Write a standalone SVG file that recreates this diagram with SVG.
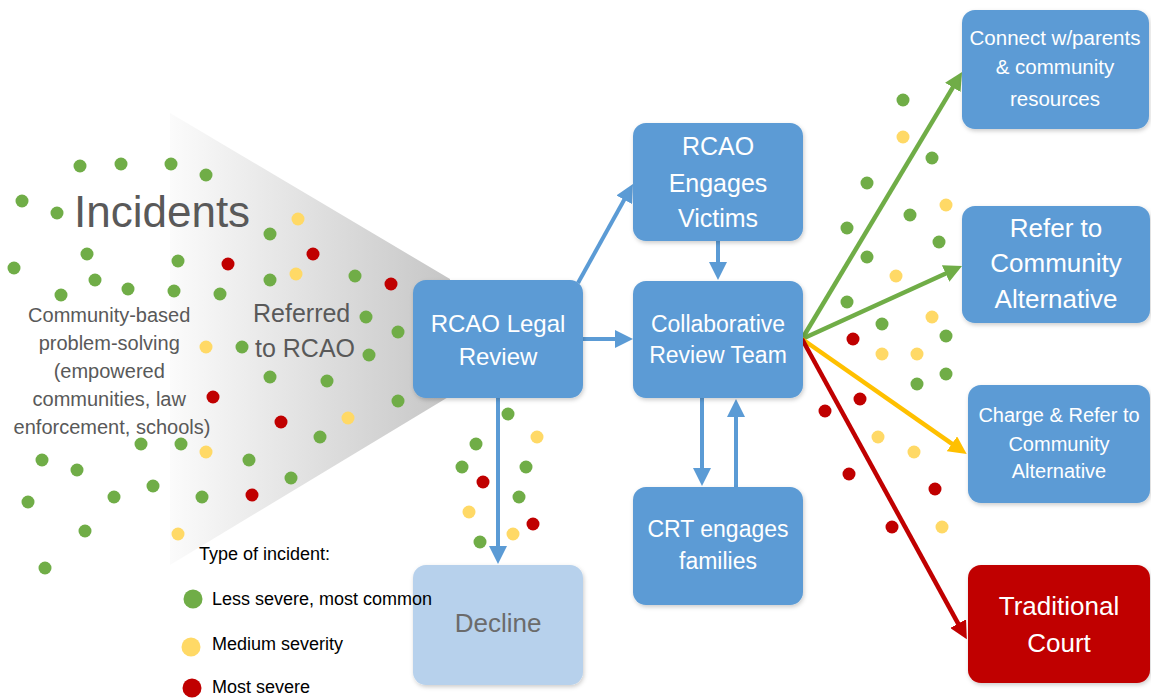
<svg xmlns="http://www.w3.org/2000/svg" width="1151" height="698" viewBox="0 0 1151 698">
<defs>
<style>
.box{fill:#5b9bd5;filter:url(#sh)}
.bt{font-family:"Liberation Sans",Arial,sans-serif;fill:#ffffff;text-anchor:middle}
.g{fill:#70ad47}.y{fill:#ffd966}.r{fill:#c00000}
.gray{font-family:"Liberation Sans",Arial,sans-serif;fill:#595959}
.leg{font-family:"Liberation Sans",Arial,sans-serif;fill:#000000;font-size:18px}
.ab{stroke:#5b9bd5;stroke-width:4;fill:none;marker-end:url(#hb)}
</style>
<linearGradient id="fun" x1="170" y1="0" x2="450" y2="0" gradientUnits="userSpaceOnUse">
<stop offset="0" stop-color="#fbfbfb"/>
<stop offset="1" stop-color="#c6c6c6"/>
</linearGradient>
<filter id="sh" x="-10%" y="-10%" width="125%" height="130%">
<feDropShadow dx="1" dy="2" stdDeviation="2" flood-color="#000" flood-opacity="0.2"/>
</filter>
<marker id="hb" markerUnits="userSpaceOnUse" markerWidth="18" markerHeight="18" refX="8" refY="9" orient="auto"><path d="M0,0 L18,9 L0,18 z" fill="#5b9bd5"/></marker>
<marker id="hg" markerUnits="userSpaceOnUse" markerWidth="18" markerHeight="18" refX="8" refY="9" orient="auto"><path d="M0,0 L18,9 L0,18 z" fill="#70ad47"/></marker>
<marker id="hy" markerUnits="userSpaceOnUse" markerWidth="18" markerHeight="18" refX="8" refY="9" orient="auto"><path d="M0,0 L18,9 L0,18 z" fill="#ffc000"/></marker>
<marker id="hr" markerUnits="userSpaceOnUse" markerWidth="18" markerHeight="18" refX="8" refY="9" orient="auto"><path d="M0,0 L18,9 L0,18 z" fill="#c00000"/></marker>
</defs>
<rect width="1151" height="698" fill="#ffffff"/>

<g id="funnel">
<polygon points="170,113 450,279 450,396 170,565" fill="url(#fun)"/>
</g>

<g id="labels">
<text class="gray" x="74" y="227" font-size="44">Incidents</text>
<text class="gray" font-size="20" text-anchor="middle">
<tspan x="112" y="322">Community-based</tspan>
<tspan x="112" y="350">problem-solving</tspan>
<tspan x="112" y="378">(empowered</tspan>
<tspan x="112" y="406">communities, law</tspan>
<tspan x="112" y="434">enforcement, schools)</tspan>
</text>
<text class="gray" font-size="25" fill="#666666">
<tspan x="253" y="322">Referred</tspan>
<tspan x="255" y="357">to RCAO</tspan>
</text>
</g>

<g id="dots">
<circle class="g" cx="80" cy="166" r="6.5"/>
<circle class="g" cx="121" cy="164" r="6.5"/>
<circle class="g" cx="171" cy="164" r="6.5"/>
<circle class="g" cx="206" cy="175" r="6.5"/>
<circle class="g" cx="22" cy="201" r="6.5"/>
<circle class="g" cx="57" cy="213" r="6.5"/>
<circle class="y" cx="298" cy="219" r="6.5"/>
<circle class="g" cx="270" cy="234" r="6.5"/>
<circle class="r" cx="313" cy="254" r="6.5"/>
<circle class="r" cx="228" cy="264" r="6.5"/>
<circle class="g" cx="178" cy="261" r="6.5"/>
<circle class="g" cx="87" cy="254" r="6.5"/>
<circle class="g" cx="14" cy="268" r="6.5"/>
<circle class="g" cx="95" cy="280" r="6.5"/>
<circle class="g" cx="128" cy="289" r="6.5"/>
<circle class="g" cx="174" cy="291" r="6.5"/>
<circle class="g" cx="220" cy="294" r="6.5"/>
<circle class="g" cx="61" cy="295" r="6.5"/>
<circle class="g" cx="270" cy="280" r="6.5"/>
<circle class="y" cx="296" cy="274" r="6.5"/>
<circle class="g" cx="355" cy="276" r="6.5"/>
<circle class="r" cx="391" cy="284" r="6.5"/>
<circle class="g" cx="366" cy="317" r="6.5"/>
<circle class="g" cx="398" cy="332" r="6.5"/>
<circle class="g" cx="369" cy="355" r="6.5"/>
<circle class="g" cx="242" cy="347" r="6.5"/>
<circle class="y" cx="206" cy="347" r="6.5"/>
<circle class="g" cx="270" cy="377" r="6.5"/>
<circle class="g" cx="327" cy="381" r="6.5"/>
<circle class="r" cx="213" cy="397" r="6.5"/>
<circle class="g" cx="398" cy="401" r="6.5"/>
<circle class="r" cx="281" cy="422" r="6.5"/>
<circle class="y" cx="348" cy="418" r="6.5"/>
<circle class="g" cx="320" cy="437" r="6.5"/>
<circle class="g" cx="141" cy="444" r="6.5"/>
<circle class="g" cx="181" cy="444" r="6.5"/>
<circle class="y" cx="206" cy="452" r="6.5"/>
<circle class="g" cx="42" cy="460" r="6.5"/>
<circle class="g" cx="249" cy="460" r="6.5"/>
<circle class="g" cx="77" cy="470" r="6.5"/>
<circle class="g" cx="291" cy="478" r="6.5"/>
<circle class="g" cx="153" cy="486" r="6.5"/>
<circle class="g" cx="28" cy="502" r="6.5"/>
<circle class="g" cx="114" cy="497" r="6.5"/>
<circle class="g" cx="202" cy="497" r="6.5"/>
<circle class="r" cx="252" cy="495" r="6.5"/>
<circle class="g" cx="85" cy="531" r="6.5"/>
<circle class="y" cx="178" cy="534" r="6.5"/>
<circle class="g" cx="45" cy="568" r="6.5"/>

<circle class="g" cx="508" cy="414" r="6.5"/>
<circle class="y" cx="537" cy="437" r="6.5"/>
<circle class="g" cx="476" cy="444" r="6.5"/>
<circle class="g" cx="462" cy="467" r="6.5"/>
<circle class="g" cx="526" cy="467" r="6.5"/>
<circle class="r" cx="483" cy="482" r="6.5"/>
<circle class="g" cx="519" cy="497" r="6.5"/>
<circle class="y" cx="469" cy="512" r="6.5"/>
<circle class="r" cx="533" cy="524" r="6.5"/>
<circle class="y" cx="513" cy="534" r="6.5"/>
<circle class="g" cx="480" cy="542" r="6.5"/>

<circle class="g" cx="903" cy="100" r="6.5"/>
<circle class="y" cx="903" cy="137" r="6.5"/>
<circle class="g" cx="932" cy="158" r="6.5"/>
<circle class="g" cx="867" cy="183" r="6.5"/>
<circle class="y" cx="946" cy="205" r="6.5"/>
<circle class="g" cx="910" cy="215" r="6.5"/>
<circle class="g" cx="847" cy="228" r="6.5"/>
<circle class="g" cx="939" cy="242" r="6.5"/>
<circle class="g" cx="867" cy="257" r="6.5"/>
<circle class="y" cx="896" cy="276" r="6.5"/>
<circle class="g" cx="847" cy="302" r="6.5"/>
<circle class="y" cx="932" cy="317" r="6.5"/>
<circle class="g" cx="882" cy="324" r="6.5"/>
<circle class="g" cx="946" cy="336" r="6.5"/>
<circle class="r" cx="853" cy="339" r="6.5"/>
<circle class="y" cx="882" cy="354" r="6.5"/>
<circle class="y" cx="917" cy="354" r="6.5"/>
<circle class="g" cx="946" cy="374" r="6.5"/>
<circle class="g" cx="917" cy="384" r="6.5"/>
<circle class="r" cx="860" cy="399" r="6.5"/>
<circle class="r" cx="825" cy="411" r="6.5"/>
<circle class="y" cx="878" cy="437" r="6.5"/>
<circle class="y" cx="914" cy="452" r="6.5"/>
<circle class="r" cx="849" cy="474" r="6.5"/>
<circle class="r" cx="935" cy="489" r="6.5"/>
<circle class="r" cx="892" cy="527" r="6.5"/>
<circle class="y" cx="942" cy="527" r="6.5"/>
</g>

<g id="connectors">
<path class="ab" d="M578,283 L628.1,192.7"/>
<path class="ab" d="M583,339 L623,339"/>
<path class="ab" d="M718,241 L718,270"/>
<path class="ab" d="M498,398 L498,554"/>
<path class="ab" d="M702,398 L702,476"/>
<path class="ab" d="M736,487 L736,409"/>
<path d="M802,339 L956.9,80.6" stroke="#70ad47" stroke-width="4.5" fill="none" marker-end="url(#hg)"/>
<path d="M802,339 L952.9,270.2" stroke="#70ad47" stroke-width="4.5" fill="none" marker-end="url(#hg)"/>
<path d="M802,339 L958.5,448.3" stroke="#ffc000" stroke-width="4.5" fill="none" marker-end="url(#hy)"/>
<path d="M802,339 L962,630.6" stroke="#c00000" stroke-width="4.5" fill="none" marker-end="url(#hr)"/>
</g>

<g id="legal-review">
<rect class="box" x="413" y="280" width="170" height="118" rx="13"/>
<text class="bt" font-size="24"><tspan x="498" y="332">RCAO Legal</tspan><tspan x="498" y="365">Review</tspan></text>
</g>
<g id="engages-victims">
<rect class="box" x="633" y="123" width="170" height="118" rx="13"/>
<text class="bt" font-size="25"><tspan x="718" y="155">RCAO</tspan><tspan x="718" y="192">Engages</tspan><tspan x="718" y="227">Victims</tspan></text>
</g>
<g id="collaborative-review-team">
<rect class="box" x="633" y="281" width="170" height="117" rx="13"/>
<text class="bt" font-size="23"><tspan x="718" y="332">Collaborative</tspan><tspan x="718" y="363">Review Team</tspan></text>
</g>
<g id="crt-engages-families">
<rect class="box" x="633" y="487" width="170" height="118" rx="13"/>
<text class="bt" font-size="23"><tspan x="718" y="537">CRT engages</tspan><tspan x="718" y="569">families</tspan></text>
</g>
<g id="decline">
<rect x="413" y="565" width="170" height="120" rx="13" fill="#b7d1ec" filter="url(#sh)"/>
<text x="498" y="632" font-size="26" text-anchor="middle" font-family="Liberation Sans, Arial, sans-serif" fill="#6b6b6b">Decline</text>
</g>
<g id="connect-parents">
<rect class="box" x="962" y="10" width="187" height="119" rx="13"/>
<text class="bt" font-size="20.5"><tspan x="1055" y="45">Connect w/parents</tspan><tspan x="1055" y="74">&amp; community</tspan><tspan x="1055" y="106">resources</tspan></text>
</g>
<g id="refer-community">
<rect class="box" x="962" y="206" width="188" height="117" rx="13"/>
<text class="bt" font-size="26"><tspan x="1056" y="237">Refer to</tspan><tspan x="1056" y="272">Community</tspan><tspan x="1056" y="308">Alternative</tspan></text>
</g>
<g id="charge-refer">
<rect class="box" x="968" y="385" width="182" height="118" rx="13"/>
<text class="bt" font-size="20"><tspan x="1059" y="422">Charge &amp; Refer to</tspan><tspan x="1059" y="451">Community</tspan><tspan x="1059" y="478">Alternative</tspan></text>
</g>
<g id="traditional-court">
<rect x="968" y="565" width="182" height="118" rx="13" fill="#c00000" filter="url(#sh)"/>
<text class="bt" font-size="26"><tspan x="1059" y="615">Traditional</tspan><tspan x="1059" y="652">Court</tspan></text>
</g>

<g id="legend">
<text class="leg" x="199" y="560">Type of incident:</text>
<circle class="g" cx="193" cy="599" r="9.5"/>
<text class="leg" x="212" y="605">Less severe, most common</text>
<circle class="y" cx="191" cy="647" r="9.5"/>
<text class="leg" x="212" y="650">Medium severity</text>
<circle class="r" cx="192" cy="688" r="9.5"/>
<text class="leg" x="212" y="693">Most severe</text>
</g>
</svg>
